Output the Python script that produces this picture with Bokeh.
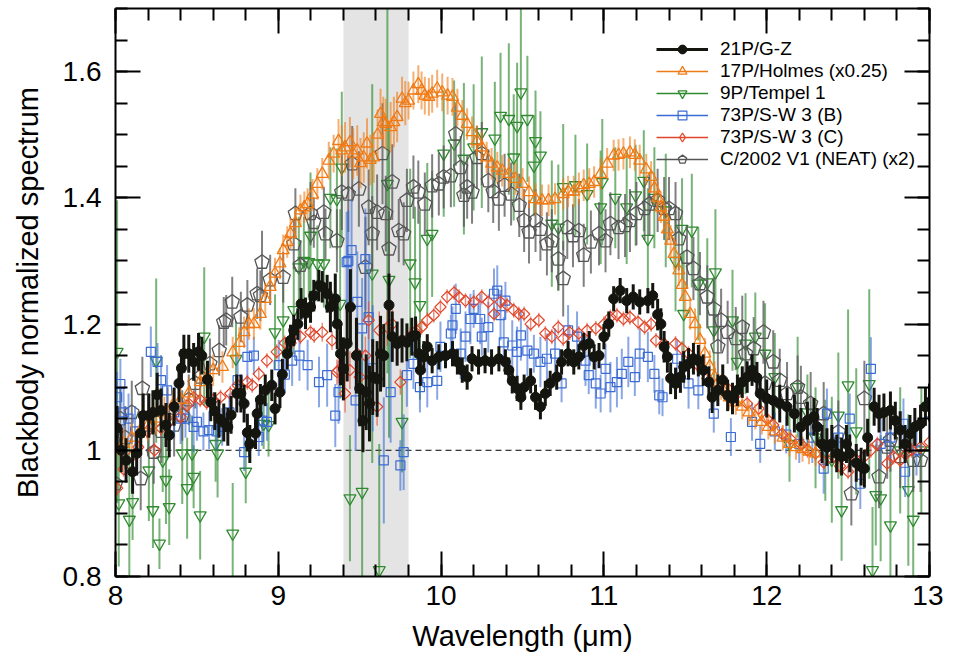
import numpy as np
from bokeh.plotting import figure
from bokeh.models import (Range1d, FixedTicker, LinearAxis, BoxAnnotation, Span,
                          Legend, LegendItem, CustomJSTickFormatter, ColumnDataSource)
from bokeh.embed import file_html
from bokeh.resources import INLINE

# ---------------- data: (wavelength um, normalized flux, error) ----------------
gz_points = [
(8.01,1.035,.035),(8.035,1.000,.035),(8.065,0.984,.035),(8.105,0.966,.035),(8.13,0.995,.035),
(8.155,1.027,.035),(8.17,1.055,.035),(8.205,1.055,.035),(8.23,1.060,.035),(8.256,1.088,.035),
(8.28,1.063,.035),(8.31,1.040,.035),(8.33,1.024,.035),(8.36,1.069,.03),(8.39,1.106,.03),
(8.405,1.130,.03),(8.42,1.153,.03),(8.45,1.153,.03),(8.48,1.140,.03),(8.51,1.156,.03),
(8.53,1.150,.03),(8.565,1.112,.03),(8.585,1.076,.03),(8.61,1.062,.03),(8.635,1.050,.03),
(8.665,1.044,.03),(8.69,1.037,.03),(8.71,1.056,.03),(8.745,1.090,.03),(8.77,1.090,.03),
(8.79,1.074,.03),(8.81,1.028,.03),(8.825,1.010,.03),(8.86,1.027,.025),(8.87,1.058,.025),
(8.89,1.080,.025),(8.92,1.095,.025),(8.96,1.103,.025),(8.98,1.066,.025),(9.01,1.092,.025),
(9.025,1.120,.025),(9.055,1.153,.025),(9.075,1.174,.025),(9.095,1.190,.025),(9.12,1.200,.025),
(9.14,1.232,.025),(9.167,1.217,.025),(9.198,1.227,.025),(9.218,1.245,.025),(9.249,1.261,.025),
(9.27,1.259,.025),(9.30,1.248,.03),(9.32,1.227,.04),(9.35,1.240,.04),(9.362,1.200,.04),
(9.382,1.153,.05),(9.40,1.129,.05),(9.423,1.169,.06),(9.443,1.227,.06),(9.48,1.150,.06),
(9.50,1.098,.06),(9.52,1.047,.05),(9.54,1.092,.06),(9.56,1.074,.06),(9.58,1.116,.06),
(9.607,1.113,.06),(9.628,1.153,.06),(9.648,1.150,.05),(9.68,1.230,.05),(9.70,1.180,.04),
(9.73,1.169,.035),(9.76,1.174,.035),(9.79,1.171,.03),(9.82,1.180,.03),(9.843,1.182,.03),
(9.863,1.153,.025),(9.873,1.127,.025),(9.894,1.148,.025),(9.915,1.164,.02),(9.945,1.142,.02),
(9.986,1.148,.02),(10.027,1.150,.02),(10.07,1.153,.02),(10.10,1.140,.02),(10.13,1.127,.02),
(10.16,1.116,.02),(10.19,1.145,.02),(10.23,1.140,.02),(10.27,1.142,.02),(10.31,1.140,.02),
(10.355,1.145,.02),(10.395,1.140,.02),(10.416,1.127,.02),(10.437,1.110,.02),(10.467,1.098,.02),
(10.49,1.084,.02),(10.51,1.100,.02),(10.55,1.110,.02),(10.58,1.084,.02),(10.61,1.069,.02),
(10.64,1.090,.02),(10.67,1.106,.02),(10.71,1.116,.02),(10.74,1.140,.02),(10.78,1.153,.02),
(10.815,1.140,.02),(10.846,1.148,.02),(10.876,1.166,.02),(10.91,1.169,.02),(10.94,1.148,.02),
(10.97,1.150,.02),(11.00,1.180,.02),(11.03,1.200,.02),(11.06,1.240,.02),(11.10,1.253,.02),
(11.14,1.237,.02),(11.18,1.243,.02),(11.22,1.235,.02),(11.27,1.237,.02),(11.30,1.245,.02),
(11.33,1.215,.025),(11.35,1.200,.025),(11.37,1.164,.025),(11.39,1.148,.025),(11.41,1.114,.025),
(11.44,1.106,.025),(11.47,1.116,.025),(11.49,1.132,.025),(11.52,1.137,.025),(11.55,1.145,.025),
(11.58,1.142,.025),(11.61,1.127,.025),(11.645,1.108,.025),(11.665,1.084,.025),(11.70,1.095,.025),
(11.73,1.111,.025),(11.76,1.087,.025),(11.79,1.082,.025),(11.82,1.095,.025),(11.85,1.108,.025),
(11.88,1.116,.025),(11.91,1.127,.025),(11.94,1.115,.025),(11.96,1.090,.025),(12.00,1.082,.03),
(12.04,1.079,.03),(12.08,1.074,.03),(12.125,1.069,.03),(12.17,1.058,.03),(12.21,1.037,.03),
(12.25,1.047,.03),(12.29,1.053,.03),(12.31,1.037,.03),(12.34,1.010,.03),(12.37,1.005,.03),
(12.40,1.010,.03),(12.43,0.995,.03),(12.46,0.990,.03),(12.49,1.010,.03),(12.51,0.995,.03),
(12.55,0.980,.03),(12.58,0.974,.03),(12.60,0.971,.03),(12.62,1.020,.03),(12.66,1.069,.03),
(12.69,1.058,.03),(12.72,1.060,.03),(12.76,1.063,.03),(12.79,1.047,.03),(12.82,1.032,.03),
(12.85,1.010,.03),(12.88,1.026,.03),(12.91,1.037,.03),(12.945,1.042,.03),(12.975,1.069,.03),
(13.00,1.076,.03)]

holmes_points = [
(8.00,1.000,.025),(8.05,1.010,.025),(8.10,1.020,.025),(8.15,1.030,.025),(8.20,1.040,.025),
(8.25,1.050,.025),(8.30,1.060,.025),(8.35,1.070,.025),(8.40,1.080,.025),(8.45,1.090,.025),
(8.52,1.108,.025),(8.56,1.115,.025),(8.60,1.127,.025),(8.657,1.132,.025),(8.72,1.155,.025),
(8.76,1.170,.025),(8.79,1.187,.025),(8.82,1.200,.025),(8.85,1.200,.025),(8.89,1.216,.025),
(8.92,1.240,.025),(8.95,1.259,.025),(8.98,1.280,.025),(9.01,1.296,.025),(9.03,1.317,.025),
(9.055,1.330,.025),(9.075,1.343,.025),(9.105,1.360,.025),(9.136,1.380,.025),(9.16,1.385,.025),
(9.18,1.390,.025),(9.21,1.405,.025),(9.24,1.422,.025),(9.27,1.438,.025),(9.31,1.459,.03),
(9.34,1.470,.03),(9.37,1.490,.035),(9.39,1.475,.04),(9.41,1.480,.04),(9.44,1.488,.04),
(9.46,1.470,.04),(9.485,1.475,.04),(9.505,1.455,.04),(9.525,1.464,.04),(9.545,1.486,.04),
(9.565,1.460,.04),(9.586,1.464,.04),(9.61,1.500,.04),(9.628,1.533,.04),(9.645,1.520,.04),
(9.66,1.517,.04),(9.69,1.512,.04),(9.71,1.520,.04),(9.73,1.528,.04),(9.76,1.557,.035),
(9.78,1.550,.035),(9.80,1.554,.03),(9.83,1.570,.03),(9.86,1.580,.03),(9.88,1.570,.03),
(9.90,1.562,.03),(9.925,1.560,.03),(9.945,1.565,.03),(9.976,1.573,.03),(10.007,1.567,.03),
(10.04,1.562,.03),(10.07,1.560,.03),(10.10,1.543,.03),(10.13,1.530,.025),(10.16,1.517,.025),
(10.19,1.504,.025),(10.22,1.490,.025),(10.25,1.480,.025),(10.28,1.464,.025),(10.31,1.454,.025),
(10.345,1.448,.025),(10.375,1.443,.025),(10.416,1.438,.025),(10.457,1.430,.025),(10.50,1.422,.025),
(10.54,1.409,.025),(10.58,1.398,.025),(10.62,1.396,.025),(10.66,1.396,.025),(10.70,1.398,.025),
(10.75,1.406,.025),(10.78,1.410,.025),(10.815,1.410,.025),(10.846,1.415,.025),(10.876,1.420,.025),
(10.91,1.422,.025),(10.94,1.425,.025),(10.98,1.438,.025),(11.02,1.454,.025),(11.06,1.467,.025),
(11.09,1.468,.025),(11.12,1.470,.025),(11.16,1.472,.025),(11.19,1.468,.025),(11.22,1.459,.025),
(11.26,1.445,.025),(11.29,1.433,.025),(11.31,1.415,.025),(11.33,1.400,.025),(11.35,1.385,.025),
(11.37,1.370,.025),(11.39,1.350,.025),(11.41,1.332,.025),(11.43,1.311,.025),(11.46,1.285,.025),
(11.48,1.262,.025),(11.50,1.243,.025),(11.53,1.216,.025),(11.56,1.200,.025),(11.59,1.175,.025),
(11.62,1.153,.025),(11.65,1.133,.025),(11.68,1.116,.025),(11.72,1.100,.02),(11.77,1.084,.02),
(11.81,1.076,.02),(11.85,1.069,.02),(11.89,1.060,.02),(11.93,1.053,.02),(11.97,1.045,.02),
(12.01,1.037,.02),(12.05,1.030,.02),(12.10,1.020,.02),(12.14,1.010,.02),(12.18,1.005,.02),
(12.22,1.002,.02),(12.26,0.998,.02),(12.30,0.995,.02)]

tempel_points = [
(8.01,1.156,.24),(8.02,0.916,.10),(8.085,0.890,.12),(8.105,0.918,.06),(8.205,0.968,.08),
(8.23,0.905,.06),(8.25,1.142,.13),(8.27,0.852,.04),(8.29,0.984,.05),(8.31,0.953,.07),
(8.33,0.910,.06),(8.41,0.995,.08),(8.44,0.940,.08),(8.47,0.995,.06),(8.48,0.958,.05),
(8.52,0.897,.07),(8.545,1.180,.11),(8.615,1.010,.06),(8.627,0.995,.07),(8.72,0.868,.08),
(8.74,1.145,.06),(8.80,0.966,.05),(8.91,1.042,.04),(8.94,1.040,.05),(8.98,1.187,.06),
(9.03,1.206,.06),(9.095,1.222,.07),(9.126,1.290,.08),(9.157,1.300,.07),(9.187,1.298,.06),
(9.198,1.340,.10),(9.24,1.296,.06),(9.28,1.296,.07),(9.32,1.400,.08),(9.36,1.398,.08),
(9.38,1.232,.15),(9.39,1.448,.12),(9.44,0.924,.10),(9.515,0.934,.25),(9.577,1.280,.30),
(9.62,0.810,.20),(9.67,1.422,.30),(9.68,1.270,.25),(9.76,1.045,.08),(9.81,1.296,.15),
(9.84,1.266,.12),(9.87,1.230,.15),(9.915,1.335,.12),(9.945,1.343,.10),(10.016,1.470,.10),
(10.08,1.486,.10),(10.14,1.462,.12),(10.20,1.480,.10),(10.25,1.504,.12),(10.33,1.494,.09),
(10.365,1.530,.10),(10.416,1.525,.12),(10.446,1.464,.10),(10.467,1.514,.10),(10.49,1.567,.15),
(10.53,1.525,.10),(10.57,1.451,.08),(10.58,1.490,.08),(10.61,1.467,.07),(10.68,1.359,.10),
(10.72,1.353,.10),(10.75,1.417,.10),(10.825,1.420,.08),(10.897,1.406,.08),(10.98,1.385,.09),
(10.99,1.425,.10),(11.07,1.400,.08),(11.14,1.385,.09),(11.195,1.404,.08),(11.245,1.427,.08),
(11.27,1.335,.08),(11.31,1.400,.08),(11.38,1.380,.09),(11.44,1.300,.08),(11.48,1.351,.08),
(11.49,1.216,.10),(11.54,1.348,.09),(11.58,1.264,.09),(11.635,1.266,.07),(11.675,1.190,.08),
(11.685,1.282,.10),(11.79,1.206,.08),(11.82,1.140,.07),(11.87,1.169,.08),(11.93,1.180,.07),
(11.99,1.153,.08),(12.05,1.116,.07),(12.14,1.010,.06),(12.19,1.100,.08),(12.25,1.060,.06),
(12.30,1.020,.08),(12.36,1.000,.08),(12.40,0.985,.10),(12.44,1.055,.10),(12.46,0.905,.08),
(12.50,1.103,.12),(12.55,1.030,.10),(12.63,1.105,.15),(12.65,0.810,.10),(12.67,0.929,.08),
(12.70,0.924,.10),(12.76,0.881,.10),(12.82,1.000,.10),(12.87,0.937,.12),(12.90,0.890,.10),
(12.95,1.000,.10)]

swb_points = [
(8.01,1.084,.04),(8.03,1.105,.04),(8.05,1.060,.04),(8.08,1.050,.04),(8.12,1.030,.04),
(8.217,1.156,.04),(8.258,1.140,.03),(8.28,1.111,.04),(8.317,1.095,.04),(8.36,1.060,.04),
(8.40,1.050,.04),(8.43,1.050,.03),(8.48,1.037,.04),(8.50,1.045,.03),(8.54,1.030,.03),
(8.575,1.032,.03),(8.62,1.030,.03),(8.655,1.037,.03),(8.70,1.060,.03),(8.75,1.111,.04),
(8.79,0.997,.03),(8.81,1.148,.04),(8.85,1.150,.03),(8.88,1.021,.03),(8.90,1.047,.04),
(8.93,1.045,.03),(9.003,1.135,.04),(9.04,1.120,.03),(9.085,1.142,.04),(9.13,1.150,.04),
(9.18,1.135,.04),(9.25,1.108,.04),(9.30,1.119,.05),(9.35,1.055,.05),(9.37,1.092,.05),
(9.42,1.298,.08),(9.43,1.300,.08),(9.45,1.317,.08),(9.475,1.079,.08),(9.485,1.235,.08),
(9.515,1.193,.08),(9.535,1.303,.08),(9.555,1.211,.10),(9.58,1.130,.10),(9.648,0.984,.10),
(9.69,1.092,.08),(9.75,0.976,.04),(9.77,0.997,.06),(9.79,1.119,.05),(9.83,1.137,.04),
(9.87,1.100,.04),(9.915,1.108,.04),(9.976,1.110,.03),(9.996,1.164,.04),(10.06,1.185,.03),
(10.07,1.198,.03),(10.09,1.224,.04),(10.12,1.153,.04),(10.15,1.180,.04),(10.18,1.208,.04),
(10.20,1.224,.03),(10.24,1.208,.04),(10.25,1.180,.03),(10.29,1.195,.04),(10.325,1.248,.04),
(10.345,1.253,.04),(10.365,1.214,.04),(10.385,1.171,.04),(10.395,1.237,.03),(10.437,1.166,.04),
(10.467,1.156,.04),(10.49,1.182,.04),(10.53,1.158,.04),(10.57,1.153,.03),(10.61,1.140,.04),
(10.65,1.145,.04),(10.70,1.153,.04),(10.74,1.106,.03),(10.78,1.190,.04),(10.835,1.180,.04),
(10.887,1.142,.04),(10.907,1.119,.03),(10.95,1.106,.04),(10.98,1.090,.03),(11.01,1.129,.04),
(11.04,1.100,.04),(11.08,1.108,.04),(11.11,1.121,.04),(11.15,1.140,.04),(11.19,1.116,.03),
(11.22,1.153,.04),(11.27,1.148,.04),(11.31,1.121,.03),(11.34,1.087,.03),(11.36,1.084,.03),
(11.45,1.145,.03),(11.52,1.106,.04),(11.58,1.095,.03),(11.675,1.058,.03),(11.78,1.021,.03),
(11.91,1.045,.03),(11.96,1.010,.03),(12.05,1.030,.03),(12.12,1.025,.03),(12.20,1.010,.03),
(12.28,1.020,.04),(12.35,0.971,.04),(12.37,1.058,.04),(12.44,1.020,.04),(12.51,1.050,.04),
(12.575,0.947,.04),(12.64,1.129,.05),(12.70,1.010,.04),(12.76,1.020,.04),(12.84,1.042,.04),
(12.85,0.966,.04),(12.92,1.000,.04),(13.00,1.060,.04)]

swc_points = [
(8.01,0.940,.012),(8.05,0.970,.012),(8.10,0.990,.012),(8.14,1.005,.012),(8.195,1.030,.012),
(8.24,1.000,.012),(8.28,1.035,.012),(8.33,1.045,.012),(8.40,1.053,.012),(8.44,1.071,.012),
(8.48,1.084,.012),(8.52,1.080,.012),(8.56,1.076,.012),(8.60,1.080,.012),(8.645,1.084,.012),
(8.705,1.090,.012),(8.75,1.103,.012),(8.81,1.108,.012),(8.84,1.103,.012),(8.88,1.121,.012),
(8.93,1.142,.012),(8.99,1.156,.012),(9.04,1.170,.012),(9.075,1.170,.012),(9.136,1.180,.012),
(9.198,1.187,.012),(9.22,1.182,.012),(9.27,1.187,.015),(9.33,1.174,.015),(9.36,1.124,.02),
(9.37,1.127,.02),(9.41,1.090,.03),(9.44,1.127,.03),(9.485,1.153,.03),(9.50,1.116,.03),
(9.535,1.150,.03),(9.555,1.206,.03),(9.607,1.069,.03),(9.62,1.190,.03),(9.67,1.195,.03),
(9.70,1.200,.025),(9.75,1.108,.02),(9.81,1.180,.015),(9.85,1.190,.015),(9.88,1.195,.012),
(9.915,1.206,.012),(9.955,1.214,.012),(9.996,1.227,.012),(10.037,1.243,.012),(10.08,1.250,.012),
(10.11,1.243,.012),(10.15,1.237,.012),(10.20,1.235,.012),(10.25,1.243,.012),(10.29,1.235,.012),
(10.325,1.216,.012),(10.365,1.235,.012),(10.405,1.230,.012),(10.446,1.222,.012),(10.477,1.216,.012),
(10.51,1.216,.012),(10.55,1.200,.012),(10.60,1.206,.012),(10.64,1.185,.012),(10.68,1.180,.012),
(10.72,1.195,.012),(10.75,1.177,.012),(10.79,1.187,.012),(10.846,1.185,.012),(10.897,1.190,.012),
(10.95,1.193,.012),(11.00,1.200,.012),(11.04,1.211,.012),(11.08,1.214,.012),(11.12,1.208,.012),
(11.16,1.211,.012),(11.21,1.203,.012),(11.25,1.195,.012),(11.29,1.200,.012),(11.32,1.174,.012),
(11.37,1.169,.012),(11.44,1.169,.012),(11.48,1.161,.012),(11.52,1.153,.012),(11.57,1.137,.012),
(11.635,1.114,.012),(11.70,1.106,.012),(11.76,1.098,.012),(11.82,1.090,.012),(11.88,1.074,.012),
(11.95,1.066,.012),(12.00,1.050,.012),(12.04,1.040,.012),(12.095,1.026,.012),(12.145,1.018,.012),
(12.21,1.010,.012),(12.25,1.000,.012),(12.30,0.995,.012),(12.35,0.981,.012),(12.41,0.990,.012),
(12.45,0.975,.012),(12.50,0.966,.012),(12.55,0.985,.012),(12.60,0.990,.012),(12.64,1.000,.012),
(12.68,1.010,.012),(12.74,0.979,.012),(12.78,0.990,.012),(12.82,0.984,.012),(12.86,0.995,.012),
(12.89,1.000,.012),(12.945,1.005,.012),(13.00,1.013,.012)]

neat_points = [
(8.00,0.947,.05),(8.03,1.050,.05),(8.06,1.020,.05),(8.10,1.060,.05),(8.155,0.955,.05),
(8.165,1.098,.05),(8.20,1.040,.05),(8.235,0.997,.05),(8.28,1.030,.05),(8.32,1.050,.05),
(8.36,1.040,.05),(8.41,1.055,.04),(8.45,1.080,.04),(8.49,1.106,.04),(8.52,1.116,.04),
(8.58,1.137,.04),(8.637,1.158,.04),(8.665,1.203,.04),(8.68,1.206,.04),(8.717,1.235,.04),
(8.77,1.211,.04),(8.81,1.230,.04),(8.87,1.248,.04),(8.89,1.245,.04),(8.90,1.298,.05),
(8.95,1.270,.04),(9.03,1.274,.04),(9.095,1.327,.04),(9.105,1.375,.04),(9.136,1.293,.04),
(9.198,1.375,.05),(9.218,1.361,.04),(9.28,1.377,.04),(9.29,1.343,.04),(9.36,1.332,.05),
(9.39,1.409,.06),(9.43,1.406,.06),(9.454,1.454,.06),(9.495,1.414,.06),(9.535,1.290,.08),
(9.555,1.385,.06),(9.577,1.343,.06),(9.607,1.377,.06),(9.64,1.470,.08),(9.66,1.375,.06),
(9.68,1.319,.06),(9.70,1.425,.06),(9.74,1.348,.05),(9.77,1.343,.05),(9.79,1.396,.05),
(9.83,1.417,.05),(9.86,1.409,.05),(9.90,1.390,.05),(9.945,1.419,.05),(9.986,1.422,.05),
(10.016,1.433,.05),(10.06,1.435,.05),(10.09,1.501,.05),(10.12,1.448,.05),(10.14,1.404,.05),
(10.16,1.417,.05),(10.19,1.409,.05),(10.22,1.464,.05),(10.25,1.470,.05),(10.29,1.427,.05),
(10.32,1.410,.05),(10.355,1.398,.05),(10.39,1.420,.05),(10.43,1.406,.05),(10.48,1.388,.05),
(10.51,1.364,.05),(10.54,1.346,.05),(10.58,1.364,.05),(10.61,1.350,.05),(10.65,1.327,.05),
(10.68,1.332,.05),(10.72,1.303,.05),(10.75,1.272,.06),(10.775,1.353,.05),(10.81,1.340,.05),
(10.846,1.348,.05),(10.876,1.309,.05),(10.92,1.330,.05),(10.97,1.343,.05),(11.01,1.332,.05),
(11.04,1.359,.05),(11.09,1.353,.05),(11.13,1.356,.05),(11.16,1.364,.05),(11.20,1.375,.05),
(11.25,1.383,.05),(11.28,1.390,.05),(11.33,1.396,.05),(11.37,1.383,.05),(11.40,1.383,.05),
(11.44,1.375,.05),(11.46,1.335,.05),(11.51,1.306,.05),(11.55,1.288,.05),(11.59,1.264,.05),
(11.635,1.243,.05),(11.675,1.224,.05),(11.70,1.164,.05),(11.72,1.206,.05),(11.76,1.187,.05),
(11.81,1.177,.05),(11.85,1.195,.05),(11.87,1.153,.05),(11.92,1.161,.05),(11.98,1.187,.05),
(11.99,1.106,.05),(12.04,1.140,.05),(12.08,1.111,.05),(12.125,1.090,.05),(12.19,1.100,.05),
(12.21,1.084,.05),(12.27,1.074,.05),(12.35,1.058,.05),(12.44,1.029,.05),(12.52,0.931,.05),
(12.60,1.082,.06),(12.69,0.958,.05),(12.74,1.005,.05),(12.76,1.016,.05),(12.82,0.990,.05),
(12.90,0.984,.05),(12.945,0.984,.05)]

series_labels = ["21P/G-Z", "17P/Holmes (x0.25)", "9P/Tempel 1",
                 "73P/S-W 3 (B)", "73P/S-W 3 (C)", "C/2002 V1 (NEAT) (x2)"]

x_major = [8, 9, 10, 11, 12, 13]
y_major = [0.8, 1.0, 1.2, 1.4, 1.6]
band_range = (9.4, 9.8)

FONT = "Liberation Sans"

def to_source(points):
    w = [t[0] for t in points]
    v = [t[1] for t in points]
    e = [t[2] for t in points]
    return ColumnDataSource(dict(x=w, y=v, lo=[a - b for a, b in zip(v, e)],
                                 hi=[a + b for a, b in zip(v, e)]))

p = figure(frame_width=814, frame_height=568,
           x_range=Range1d(8, 13), y_range=Range1d(0.8, 1.7),
           output_backend="svg", toolbar_location=None,
           min_border_left=115, min_border_right=14, min_border_top=8, min_border_bottom=78,
           background_fill_color="white", border_fill_color="white")
p.xgrid.visible = False
p.ygrid.visible = False
p.outline_line_color = None

p.add_layout(BoxAnnotation(left=band_range[0], right=band_range[1], fill_color="#e4e4e4",
                           fill_alpha=1.0, line_color=None, level="underlay"))
p.add_layout(Span(location=1.0, dimension="width", line_color="black", line_width=1,
                  line_dash="6 4", level="underlay"))

x_minor = [round(8 + 0.2 * i, 1) for i in range(26)]
y_minor = [round(0.8 + 0.05 * i, 2) for i in range(19)]

def style_axis(ax, ticks, minor, show_labels):
    ax.ticker = FixedTicker(ticks=ticks, minor_ticks=minor)
    ax.major_tick_in = 25
    ax.major_tick_out = 0
    ax.minor_tick_in = 12
    ax.minor_tick_out = 0
    ax.major_tick_line_width = 2
    ax.minor_tick_line_width = 2
    ax.major_tick_line_color = "black"
    ax.minor_tick_line_color = "black"
    ax.axis_line_width = 2
    ax.axis_line_color = "black"
    ax.major_label_text_font = FONT
    ax.major_label_text_font_size = "28px"
    ax.major_label_text_color = "black"
    if not show_labels:
        ax.formatter = CustomJSTickFormatter(code="return ''")
        ax.major_label_standoff = 0

style_axis(p.xaxis[0], x_major, x_minor, True)
style_axis(p.yaxis[0], y_major, y_minor, True)
p.xaxis[0].major_label_standoff = 9
p.yaxis[0].major_label_standoff = 14
p.yaxis[0].formatter = CustomJSTickFormatter(
    code="return Math.abs(tick - 1) < 1e-6 ? '1' : tick.toFixed(1);")
p.xaxis[0].axis_label = "Wavelength (\u03bcm)"
p.yaxis[0].axis_label = "Blackbody normalized spectrum"
for ax in (p.xaxis[0], p.yaxis[0]):
    ax.axis_label_text_font = FONT
    ax.axis_label_text_font_size = "29px"
    ax.axis_label_text_font_style = "normal"
    ax.axis_label_text_color = "black"
p.xaxis[0].axis_label_standoff = 12
p.yaxis[0].axis_label_standoff = 16

top_ax = LinearAxis()
right_ax = LinearAxis()
style_axis(top_ax, x_major, x_minor, False)
style_axis(right_ax, y_major, y_minor, False)
p.add_layout(top_ax, "above")
p.add_layout(right_ax, "right")

# ---------------- series ----------------
c_black, c_orange, c_green, c_blue, c_red, c_gray = "#151510", "#f07a14", "#2f8a2f", "#3a6bd4", "#e0452a", "#555555"

s_tempel = to_source(tempel_points)
p.segment(x0="x", y0="lo", x1="x", y1="hi", source=s_tempel, line_color=c_green, line_alpha=0.65, line_width=2)
r_tempel = p.scatter(x="x", y="y", source=s_tempel, marker="inverted_triangle", size=12,
                     fill_color=None, line_color=c_green, line_width=1.3)

s_neat = to_source(neat_points)
p.segment(x0="x", y0="lo", x1="x", y1="hi", source=s_neat, line_color=c_gray, line_alpha=0.75, line_width=2)
r_neat = p.ngon(x="x", y="y", radius=7.5, radius_units="screen", n=5, source=s_neat,
                fill_color=None, line_color=c_gray, line_width=1.3)

s_swb = to_source(swb_points)
p.segment(x0="x", y0="lo", x1="x", y1="hi", source=s_swb, line_color=c_blue, line_alpha=0.6, line_width=2)
r_swb = p.scatter(x="x", y="y", source=s_swb, marker="square", size=9,
                  fill_color=None, line_color=c_blue, line_width=1.2)

s_swc = to_source(swc_points)
p.segment(x0="x", y0="lo", x1="x", y1="hi", source=s_swc, line_color=c_red, line_alpha=0.6, line_width=1.5)
r_swc = p.scatter(x="x", y="y", source=s_swc, marker="square", angle=np.pi / 4, size=8,
                  fill_color=None, line_color=c_red, line_width=1.2)

s_holmes = to_source(holmes_points)
p.segment(x0="x", y0="lo", x1="x", y1="hi", source=s_holmes, line_color=c_orange, line_alpha=0.6, line_width=2)
r_holmes = p.scatter(x="x", y="y", source=s_holmes, marker="triangle", size=12,
                     fill_color=None, line_color=c_orange, line_width=1.3)

s_gz = to_source(gz_points)
p.segment(x0="x", y0="lo", x1="x", y1="hi", source=s_gz, line_color=c_black, line_width=3)
r_gz = p.scatter(x="x", y="y", source=s_gz, marker="circle", size=10,
                 fill_color=c_black, line_color=c_black, line_width=1)

# ---------------- legend ----------------
def dummy_line(color, width):
    return p.line(x=[np.nan], y=[np.nan], line_color=color, line_width=width)

legend_diamond = p.scatter(x=[np.nan], y=[np.nan], marker="diamond", size=12,
                           fill_color=None, line_color=c_red, line_width=1.2)

items = [
    LegendItem(label=series_labels[0], renderers=[dummy_line(c_black, 3), r_gz]),
    LegendItem(label=series_labels[1], renderers=[dummy_line(c_orange, 1.5), r_holmes]),
    LegendItem(label=series_labels[2], renderers=[dummy_line(c_green, 1.5), r_tempel]),
    LegendItem(label=series_labels[3], renderers=[dummy_line(c_blue, 1.5), r_swb]),
    LegendItem(label=series_labels[4], renderers=[dummy_line(c_red, 1.5), legend_diamond]),
    LegendItem(label=series_labels[5], renderers=[dummy_line(c_gray, 1.5), r_neat]),
]
legend = Legend(items=items, location=(541, 406), orientation="vertical",
                border_line_color=None, background_fill_alpha=0.0,
                label_text_font=FONT, label_text_font_size="19px", label_text_color="black",
                glyph_width=52, glyph_height=22, label_height=22, spacing=0,
                label_standoff=12, padding=0, margin=0)
p.add_layout(legend)

open("out.html", "w").write(file_html(p, INLINE))
